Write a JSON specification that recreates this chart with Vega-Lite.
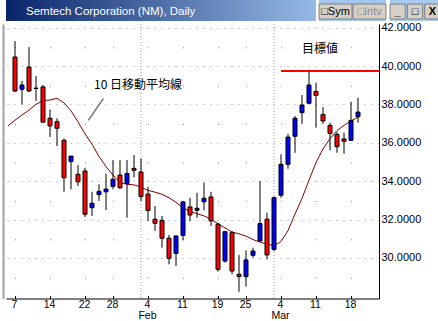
{
  "$schema": "https://vega.github.io/schema/vega-lite/v6.json",
  "padding": {"left": 3, "top": 0, "right": 0, "bottom": 0},
  "background": "white",
  "spacing": 0,
  "config": {"view": {"stroke": null}, "font": "Liberation Sans"},
  "datasets": {
    "candles": [
      {"date": "2002-01-07", "open": 40.47, "high": 41.30, "low": 38.65, "close": 38.70},
      {"date": "2002-01-08", "open": 38.79, "high": 39.22, "low": 38.00, "close": 39.01},
      {"date": "2002-01-09", "open": 39.95, "high": 40.99, "low": 38.65, "close": 38.70},
      {"date": "2002-01-10", "open": 38.85, "high": 39.48, "low": 38.18, "close": 38.83},
      {"date": "2002-01-11", "open": 38.91, "high": 39.01, "low": 37.05, "close": 37.08},
      {"date": "2002-01-14", "open": 37.28, "high": 37.74, "low": 36.30, "close": 36.88},
      {"date": "2002-01-15", "open": 37.10, "high": 37.28, "low": 35.83, "close": 36.76},
      {"date": "2002-01-16", "open": 36.13, "high": 36.23, "low": 33.45, "close": 34.18},
      {"date": "2002-01-17", "open": 35.02, "high": 35.31, "low": 33.58, "close": 35.31},
      {"date": "2002-01-18", "open": 34.36, "high": 34.83, "low": 33.75, "close": 33.97},
      {"date": "2002-01-22", "open": 34.53, "high": 34.70, "low": 32.14, "close": 32.28},
      {"date": "2002-01-23", "open": 32.62, "high": 33.45, "low": 32.19, "close": 32.85},
      {"date": "2002-01-24", "open": 33.30, "high": 33.84, "low": 32.97, "close": 33.47},
      {"date": "2002-01-25", "open": 33.45, "high": 34.39, "low": 32.50, "close": 33.59},
      {"date": "2002-01-28", "open": 33.73, "high": 35.10, "low": 33.58, "close": 34.10},
      {"date": "2002-01-29", "open": 34.32, "high": 35.10, "low": 33.60, "close": 33.66},
      {"date": "2002-01-30", "open": 33.88, "high": 35.10, "low": 32.10, "close": 34.40},
      {"date": "2002-01-31", "open": 34.67, "high": 35.36, "low": 34.20, "close": 34.57},
      {"date": "2002-02-01", "open": 34.48, "high": 35.19, "low": 32.97, "close": 33.20},
      {"date": "2002-02-04", "open": 33.33, "high": 33.70, "low": 31.93, "close": 32.48},
      {"date": "2002-02-05", "open": 32.02, "high": 32.71, "low": 31.41, "close": 31.81},
      {"date": "2002-02-06", "open": 31.96, "high": 32.19, "low": 30.54, "close": 31.03},
      {"date": "2002-02-07", "open": 31.03, "high": 31.20, "low": 29.67, "close": 29.98},
      {"date": "2002-02-08", "open": 30.24, "high": 31.15, "low": 29.58, "close": 31.15},
      {"date": "2002-02-11", "open": 31.18, "high": 32.97, "low": 30.92, "close": 32.92},
      {"date": "2002-02-12", "open": 32.66, "high": 33.14, "low": 31.93, "close": 32.24},
      {"date": "2002-02-13", "open": 32.49, "high": 33.40, "low": 32.10, "close": 32.59},
      {"date": "2002-02-14", "open": 32.93, "high": 33.92, "low": 32.48, "close": 33.11},
      {"date": "2002-02-15", "open": 33.18, "high": 33.45, "low": 31.67, "close": 31.93},
      {"date": "2002-02-19", "open": 31.76, "high": 31.84, "low": 29.29, "close": 29.41},
      {"date": "2002-02-20", "open": 29.84, "high": 31.40, "low": 29.76, "close": 31.37},
      {"date": "2002-02-21", "open": 31.32, "high": 31.41, "low": 29.15, "close": 29.32},
      {"date": "2002-02-22", "open": 29.15, "high": 30.16, "low": 28.24, "close": 29.03},
      {"date": "2002-02-25", "open": 29.03, "high": 30.40, "low": 28.51, "close": 29.90},
      {"date": "2002-02-26", "open": 30.14, "high": 30.54, "low": 30.02, "close": 30.36},
      {"date": "2002-02-27", "open": 30.89, "high": 34.01, "low": 30.85, "close": 31.79},
      {"date": "2002-02-28", "open": 32.02, "high": 32.36, "low": 29.93, "close": 30.16},
      {"date": "2002-03-01", "open": 30.45, "high": 33.20, "low": 30.36, "close": 33.14},
      {"date": "2002-03-04", "open": 33.27, "high": 35.40, "low": 33.14, "close": 34.88},
      {"date": "2002-03-05", "open": 34.88, "high": 36.47, "low": 34.65, "close": 36.30},
      {"date": "2002-03-06", "open": 36.34, "high": 37.40, "low": 35.48, "close": 37.28},
      {"date": "2002-03-07", "open": 37.57, "high": 38.49, "low": 36.99, "close": 37.97},
      {"date": "2002-03-08", "open": 38.06, "high": 39.70, "low": 38.05, "close": 39.01},
      {"date": "2002-03-11", "open": 38.68, "high": 39.13, "low": 36.79, "close": 38.47},
      {"date": "2002-03-12", "open": 37.48, "high": 37.86, "low": 36.99, "close": 37.14},
      {"date": "2002-03-13", "open": 36.91, "high": 37.05, "low": 35.61, "close": 36.49},
      {"date": "2002-03-14", "open": 36.44, "high": 36.56, "low": 35.48, "close": 35.80},
      {"date": "2002-03-15", "open": 36.20, "high": 36.53, "low": 35.43, "close": 36.08},
      {"date": "2002-03-18", "open": 36.13, "high": 38.14, "low": 36.10, "close": 37.17},
      {"date": "2002-03-19", "open": 37.36, "high": 38.35, "low": 37.05, "close": 37.60}
    ],
    "ma": [
      {"date": "2002-01-04", "ma": 36.88}, {"date": "2002-01-07", "ma": 37.18}, {"date": "2002-01-08", "ma": 37.45},
      {"date": "2002-01-09", "ma": 37.70}, {"date": "2002-01-10", "ma": 38.01}, {"date": "2002-01-11", "ma": 38.20},
      {"date": "2002-01-14", "ma": 38.23}, {"date": "2002-01-15", "ma": 38.32}, {"date": "2002-01-16", "ma": 38.08},
      {"date": "2002-01-17", "ma": 37.67}, {"date": "2002-01-18", "ma": 37.09}, {"date": "2002-01-22", "ma": 36.47},
      {"date": "2002-01-23", "ma": 35.93}, {"date": "2002-01-24", "ma": 35.29}, {"date": "2002-01-25", "ma": 34.76},
      {"date": "2002-01-28", "ma": 34.32}, {"date": "2002-01-29", "ma": 33.93}, {"date": "2002-01-30", "ma": 33.84},
      {"date": "2002-01-31", "ma": 33.81}, {"date": "2002-02-01", "ma": 33.69}, {"date": "2002-02-04", "ma": 33.52},
      {"date": "2002-02-05", "ma": 33.43}, {"date": "2002-02-06", "ma": 33.32}, {"date": "2002-02-07", "ma": 33.14},
      {"date": "2002-02-08", "ma": 32.90}, {"date": "2002-02-11", "ma": 32.61}, {"date": "2002-02-12", "ma": 32.42},
      {"date": "2002-02-13", "ma": 32.31}, {"date": "2002-02-14", "ma": 32.19}, {"date": "2002-02-15", "ma": 32.02},
      {"date": "2002-02-19", "ma": 31.78}, {"date": "2002-02-20", "ma": 31.57}, {"date": "2002-02-21", "ma": 31.35},
      {"date": "2002-02-22", "ma": 31.26}, {"date": "2002-02-25", "ma": 31.14}, {"date": "2002-02-26", "ma": 30.96},
      {"date": "2002-02-27", "ma": 30.83}, {"date": "2002-02-28", "ma": 30.72}, {"date": "2002-03-01", "ma": 30.64},
      {"date": "2002-03-04", "ma": 30.86}, {"date": "2002-03-05", "ma": 31.43}, {"date": "2002-03-06", "ma": 32.29},
      {"date": "2002-03-07", "ma": 33.10}, {"date": "2002-03-08", "ma": 34.06}, {"date": "2002-03-11", "ma": 34.97},
      {"date": "2002-03-12", "ma": 35.68}, {"date": "2002-03-13", "ma": 36.22}, {"date": "2002-03-14", "ma": 36.64},
      {"date": "2002-03-15", "ma": 36.91}, {"date": "2002-03-18", "ma": 37.14}, {"date": "2002-03-19", "ma": 37.33}
    ],
    "months": [{"date": "2002-02-01"}, {"date": "2002-03-01"}],
    "target": [{"date": "2002-03-04", "date_end": "2002-03-22", "price": 39.74}],
    "pointer": [{"date": "2002-01-22", "date_end": "2002-01-25", "price": 37.17, "price_end": 38.30}],
    "notes": [
      {"date": "2002-02-01", "price": 39.01, "label": "10 日移動平均線"},
      {"date": "2002-03-12", "price": 40.89, "label": "目標値"}
    ],
    "header": [{"t": "Semtech Corporation (NM), Daily"}],
    "buttons1": [
      {"b": "Sym", "label": "□Sym", "row": "r"},
      {"b": "Intv", "label": "□Intv", "row": "r"}
    ],
    "buttons2": [
      {"b": "min", "label": "_", "row": "r"},
      {"b": "max", "label": "□", "row": "r"},
      {"b": "close", "label": "X", "row": "r"}
    ]
  },
  "vconcat": [
    {
      "spacing": 2,
      "hconcat": [
        {
          "width": 310,
          "height": 21,
          "data": {"name": "header"},
          "mark": {"type": "text", "align": "left", "baseline": "middle", "dx": -135, "dy": 1, "color": "white", "font": "Liberation Sans", "fontSize": 11.5},
          "encoding": {"text": {"field": "t"}},
          "view": {
            "stroke": null,
            "fill": {
              "gradient": "linear", "x1": 0, "y1": 0, "x2": 1, "y2": 0,
              "stops": [{"offset": 0, "color": "#0a246a"}, {"offset": 1, "color": "#95bae6"}]
            }
          }
        },
        {
          "width": 67,
          "height": 21,
          "data": {"name": "buttons1"},
          "view": {"stroke": null, "fill": "#a2c6ee"},
          "encoding": {
            "x": {"field": "b", "type": "nominal", "sort": null, "scale": {"paddingInner": 0.03, "paddingOuter": 0}, "axis": null},
            "y": {"field": "row", "type": "nominal", "scale": {"paddingInner": 0, "paddingOuter": 0.2, "align": 0.67}, "axis": null}
          },
          "layer": [
            {"mark": {"type": "bar", "fill": "#d4d0c8", "stroke": "#808080", "strokeWidth": 1}},
            {
              "mark": {"type": "text", "font": "Liberation Sans", "fontSize": 11, "baseline": "middle"},
              "encoding": {
                "text": {"field": "label"},
                "color": {"condition": {"test": "datum.b == 'Intv'", "value": "#8a8a8a"}, "value": "black"}
              }
            }
          ]
        },
        {
          "width": 50,
          "height": 21,
          "data": {"name": "buttons2"},
          "view": {"stroke": null, "fill": "#a6caf0"},
          "encoding": {
            "x": {"field": "b", "type": "nominal", "sort": null, "scale": {"paddingInner": 0.12, "paddingOuter": 0}, "axis": null},
            "y": {"field": "row", "type": "nominal", "scale": {"paddingInner": 0, "paddingOuter": 0.2, "align": 0.67}, "axis": null}
          },
          "layer": [
            {"mark": {"type": "bar", "fill": "#d4d0c8", "stroke": "#808080", "strokeWidth": 1}},
            {
              "mark": {"type": "text", "font": "Liberation Sans", "fontSize": 11, "fontWeight": "bold", "baseline": "middle", "color": "black"},
              "encoding": {"text": {"field": "label"}}
            }
          ]
        }
      ]
    },
    {
      "width": 373,
      "height": 274.5,
      "encoding": {
        "x": {
          "field": "date",
          "type": "ordinal",
          "scale": {
            "type": "point",
            "padding": 0.143,
            "align": 1,
            "domain": ["2002-01-04","2002-01-07","2002-01-08","2002-01-09","2002-01-10","2002-01-11","2002-01-14","2002-01-15","2002-01-16","2002-01-17","2002-01-18","2002-01-22","2002-01-23","2002-01-24","2002-01-25","2002-01-28","2002-01-29","2002-01-30","2002-01-31","2002-02-01","2002-02-04","2002-02-05","2002-02-06","2002-02-07","2002-02-08","2002-02-11","2002-02-12","2002-02-13","2002-02-14","2002-02-15","2002-02-19","2002-02-20","2002-02-21","2002-02-22","2002-02-25","2002-02-26","2002-02-27","2002-02-28","2002-03-01","2002-03-04","2002-03-05","2002-03-06","2002-03-07","2002-03-08","2002-03-11","2002-03-12","2002-03-13","2002-03-14","2002-03-15","2002-03-18","2002-03-19","2002-03-20","2002-03-21","2002-03-22"]
          },
          "axis": {
            "title": null,
            "values": ["2002-01-07","2002-01-14","2002-01-22","2002-01-28","2002-02-04","2002-02-11","2002-02-19","2002-02-25","2002-03-04","2002-03-11","2002-03-18"],
            "labelExpr": "datum.value == '2002-02-04' ? ['4', 'Feb'] : datum.value == '2002-03-04' ? ['4', 'Mar'] : '' + toNumber(substring(datum.value, 8, 10))",
            "labelAngle": 0,
            "labelFont": "Liberation Sans",
            "labelFontSize": 10.5,
            "labelColor": "black",
            "labelLineHeight": 10.5,
            "labelPadding": 4,
            "labelOffset": -1,
            "labelOverlap": false,
            "domainColor": "black",
            "tickColor": "black",
            "tickSize": -3,
            "grid": true,
            "gridColor": "#909090",
            "gridDash": [1, 37.4],
            "gridDashOffset": 15.6
          }
        }
      },
      "layer": [
        {
          "data": {"name": "months"},
          "mark": {"type": "rule", "color": "#a0a0a0", "strokeDash": [1, 2]},
          "encoding": {}
        },
        {
          "data": {"name": "ma"},
          "mark": {"type": "line", "color": "#800000", "strokeWidth": 1, "clip": true},
          "encoding": {"y": {"field": "ma", "type": "quantitative", "axis": null}}
        },
        {
          "data": {"name": "target"},
          "mark": {"type": "rule", "color": "#ff0000", "strokeWidth": 2},
          "encoding": {
            "x2": {"field": "date_end"},
            "y": {"field": "price", "type": "quantitative", "axis": null}
          }
        },
        {
          "data": {"name": "pointer"},
          "mark": {"type": "rule", "color": "#707070", "strokeWidth": 1.5, "xOffset": 3.3, "x2Offset": -2.7},
          "encoding": {
            "x2": {"field": "date_end"},
            "y": {"field": "price", "type": "quantitative", "axis": null},
            "y2": {"field": "price_end"}
          }
        },
        {
          "data": {"name": "candles"},
          "mark": {"type": "rule", "color": "black", "strokeWidth": 1},
          "encoding": {
            "y": {
              "field": "low", "type": "quantitative",
              "axis": {"orient": "left", "labels": false, "ticks": false, "grid": false, "title": null, "domainColor": "#a0a0a0", "domainWidth": 2, "offset": 3}
            },
            "y2": {"field": "high"}
          }
        },
        {
          "data": {"name": "candles"},
          "mark": {"type": "bar", "size": 4, "stroke": "black", "strokeWidth": 1},
          "encoding": {
            "y": {
              "field": "open", "type": "quantitative",
              "scale": {"domain": [27.89, 42.19], "nice": false, "zero": false},
              "axis": {
                "orient": "right",
                "title": null,
                "values": [29, 30, 31, 32, 33, 34, 35, 36, 37, 38, 39, 40, 41, 42],
                "labelExpr": "datum.value % 2 == 0 ? format(datum.value, '.4f') : ''",
                "labelFont": "Liberation Sans",
                "labelFontSize": 11,
                "labelColor": "black",
                "labelPadding": 2,
                "labelOverlap": false,
                "labelBound": false,
                "labelFlush": false,
                "ticks": false,
                "domainColor": "black",
                "grid": true,
                "gridColor": "#a0a0a0",
                "gridDash": [1, 6],
                "gridOpacity": {"condition": {"test": "datum.value % 2 == 1", "value": 0}, "value": 1}
              }
            },
            "y2": {"field": "close"},
            "color": {"condition": {"test": "datum.close > datum.open", "value": "#0000ff"}, "value": "#ff0000"}
          }
        },
        {
          "data": {"name": "notes"},
          "mark": {"type": "text", "font": "Noto Sans CJK JP", "fontSize": 12, "color": "black", "align": "center", "baseline": "middle", "dx": -3},
          "encoding": {
            "y": {"field": "price", "type": "quantitative", "axis": null},
            "text": {"field": "label"}
          }
        }
      ],
      "resolve": {"axis": {"y": "independent"}}
    }
  ]
}
